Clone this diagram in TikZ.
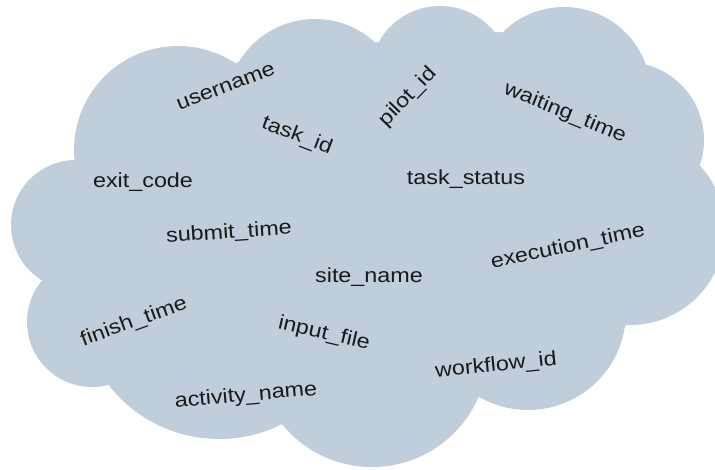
\documentclass[tikz,border=0pt]{standalone}
\usepackage{fontspec}
\setmainfont{Liberation Sans}[FakeStretch=1.15]
\definecolor{cloudblue}{RGB}{192,206,219}
\begin{document}
\begin{tikzpicture}[x=1pt,y=-1pt,
  cloudpart/.style={fill=cloudblue},
  word/.style={inner sep=0pt,font=\fontsize{20.3}{24}\selectfont,text=black!90}]
\useasboundingbox (0,0) rectangle (715,469);
% cloud body
\fill[cloudpart] (242,60) -- (380,42) -- (500,32) -- (638,63) -- (698,168) -- (625,327)
  -- (478,397) -- (282,424) -- (107,384) -- (45,277) -- (75,160) -- cycle;
\fill[cloudpart] (178,150) circle[radius=104pt];
\fill[cloudpart] (315,108) circle[radius=89pt];
\fill[cloudpart] (440,76) circle[radius=70pt];
\fill[cloudpart] (564,94) circle[radius=87pt];
\fill[cloudpart] (626,140) circle[radius=78pt];
\fill[cloudpart] (630,230) circle[radius=95pt];
\fill[cloudpart] (528,312) circle[radius=98pt];
\fill[cloudpart] (372,351) circle[radius=116pt];
\fill[cloudpart] (219,299) circle[radius=140pt];
\fill[cloudpart] (92,322) circle[radius=65pt];
\fill[cloudpart] (76,225) circle[radius=65pt];
% words
\node[word,rotate=21]  (username) at (226,87)  {username};
\node[word,rotate=-21] (taskid)   at (297,136) {task\_id};
\node[word,rotate=46]  (pilotid)  at (408,97)  {pilot\_id};
\node[word,rotate=-22] (waiting)  at (565,113) {waiting\_time};
\node[word]            (exitcode) at (143,182) {exit\_code};
\node[word]            (status)   at (466,179) {task\_status};
\node[word,rotate=4]   (submit)   at (229,233) {submit\_time};
\node[word]            (site)     at (369,277) {site\_name};
\node[word,rotate=12]  (exec)     at (568,247) {execution\_time};
\node[word,rotate=20]  (finish)   at (134,322) {finish\_time};
\node[word,rotate=-13] (input)    at (324,334) {input\_file};
\node[word,rotate=6]   (workflow) at (496,366) {workflow\_id};
\node[word,rotate=5]   (activity) at (246,396) {activity\_name};
\end{tikzpicture}
\end{document}
